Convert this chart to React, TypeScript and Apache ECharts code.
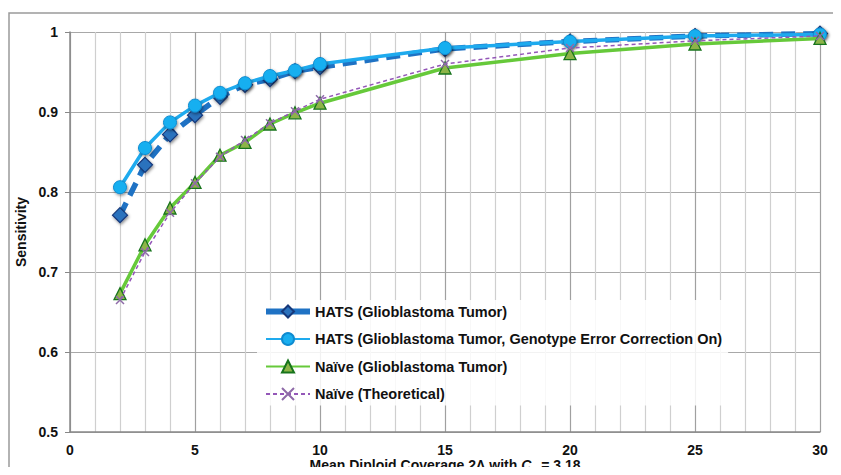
import React, { useEffect, useRef } from "react";
import * as echarts from "echarts";

const coverage = [2, 3, 4, 5, 6, 7, 8, 9, 10, 15, 20, 25, 30];
const hatsTumor = [0.771, 0.834, 0.872, 0.896, 0.919, 0.934, 0.941, 0.951, 0.956, 0.979, 0.988, 0.995, 0.998];
const hatsCorrected = [0.806, 0.855, 0.887, 0.908, 0.924, 0.936, 0.945, 0.952, 0.960, 0.980, 0.988, 0.995, 0.997];
const naiveTumor = [0.673, 0.734, 0.780, 0.812, 0.846, 0.862, 0.885, 0.899, 0.911, 0.955, 0.973, 0.985, 0.992];
const naiveTheory = [0.665, 0.725, 0.774, 0.811, 0.844, 0.865, 0.886, 0.901, 0.916, 0.960, 0.980, 0.989, 0.995];
const seriesNames = [
  "HATS (Glioblastoma Tumor)",
  "HATS (Glioblastoma Tumor, Genotype Error Correction On)",
  "Naïve (Glioblastoma Tumor)",
  "Naïve (Theoretical)",
];

const pair = (ys: number[]) => coverage.map((x, i) => [x, ys[i]]);
const FONT = "Liberation Sans, Arial, sans-serif";
const shadow = { shadowBlur: 3, shadowColor: "rgba(0,0,0,0.45)", shadowOffsetX: 1, shadowOffsetY: 1.5 };

export default function App() {
  const ref = useRef<HTMLDivElement>(null);
  useEffect(() => {
    if (!ref.current) return;
    const chart = echarts.init(ref.current, null, { renderer: "svg" });
    chart.setOption({
      animation: false,
      backgroundColor: "#fff",
      textStyle: { fontFamily: FONT },
      graphic: [
        {
          type: "rect",
          shape: { x: 9, y: 13, width: 900, height: 500 },
          style: { fill: "none", stroke: "#9a9a9a", lineWidth: 1.5 },
          silent: true,
          z: -1,
        },
      ],
      grid: { left: 70, right: 21, top: 32, bottom: 43, outerBoundsMode: "none", containLabel: false },
      xAxis: {
        type: "value",
        min: 0,
        max: 30,
        interval: 5,
        axisLine: { show: true, lineStyle: { color: "#888", width: 1.5 } },
        axisTick: { show: false },
        axisLabel: { color: "#111", fontSize: 14, fontWeight: "bold", margin: 11, fontFamily: FONT },
        splitLine: { show: true, lineStyle: { color: "#a0a0a0", width: 1.2 } },
        minorTick: { show: false, splitNumber: 5 },
        minorSplitLine: { show: true, lineStyle: { color: "#cfcfcf", width: 1.2 } },
        name: "{n|Mean Diploid Coverage 2Λ with }{i|C}{s|a}{n| = 3.18}",
        nameLocation: "middle",
        nameGap: 25,
        nameMoveOverlap: false,
        nameTextStyle: {
          lineHeight: 16,
          rich: {
            n: { fontSize: 14, fontWeight: "bold", color: "#111", fontFamily: FONT, lineHeight: 16 },
            i: { fontSize: 14, fontWeight: "bold", fontStyle: "italic", color: "#111", fontFamily: FONT, lineHeight: 16 },
            s: { fontSize: 9, fontWeight: "bold", fontStyle: "italic", color: "#111", fontFamily: FONT, lineHeight: 16, verticalAlign: "bottom", padding: [0, 1, 0, 0] },
          },
        },
      },
      yAxis: {
        type: "value",
        min: 0.5,
        max: 1,
        interval: 0.1,
        axisLine: { show: true, lineStyle: { color: "#888", width: 1.5 } },
        axisTick: { show: true, length: 5, lineStyle: { color: "#888" } },
        axisLabel: {
          color: "#111",
          fontSize: 14,
          fontWeight: "bold",
          margin: 12,
          fontFamily: FONT,
          formatter: (v: number) => (Math.abs(v - 1) < 1e-9 ? "1" : String(+v.toFixed(1))),
        },
        splitLine: { show: true, lineStyle: { color: "#a8a8a8", width: 1.2 } },
        name: "Sensitivity",
        nameLocation: "middle",
        nameGap: 42,
        nameRotate: 90,
        nameTextStyle: { fontSize: 14, fontWeight: "bold", color: "#111", fontFamily: FONT },
      },
      legend: {
        orient: "vertical",
        left: 257,
        top: 300,
        itemWidth: 44,
        itemHeight: 15,
        itemGap: 12.5,
        padding: [4, 6, 4, 6],
        backgroundColor: "rgba(255,255,255,0.85)",
        textStyle: { fontSize: 14.5, fontWeight: "bold", color: "#111", fontFamily: FONT },
        data: [
          { name: seriesNames[0], lineStyle: { type: "solid", width: 6 } },
          { name: seriesNames[1] },
          { name: seriesNames[2] },
          { name: seriesNames[3] },
        ],
      },
      series: [
        {
          name: seriesNames[0],
          type: "line",
          data: pair(hatsTumor),
          symbol: "diamond",
          symbolSize: 15,
          z: 2,
          lineStyle: { color: "#1f72c4", width: 5.5, type: [14, 8] },
          itemStyle: { color: "#2b72bd", borderColor: "#16387a", borderWidth: 1.2, ...shadow },
        },
        {
          name: seriesNames[1],
          type: "line",
          data: pair(hatsCorrected),
          symbol: "circle",
          symbolSize: 13,
          z: 3,
          lineStyle: { color: "#1eaaee", width: 3.5 },
          itemStyle: { color: "#19aff0", borderColor: "#0e8bd0", borderWidth: 1, ...shadow },
        },
        {
          name: seriesNames[2],
          type: "line",
          data: pair(naiveTumor),
          symbol: "triangle",
          symbolSize: 12,
          z: 4,
          lineStyle: { color: "#66c93a", width: 3.5 },
          itemStyle: { color: "#8db448", borderColor: "#17741c", borderWidth: 1.3 },
        },
        {
          name: seriesNames[3],
          type: "line",
          data: pair(naiveTheory),
          symbol: "path://M0,0L10,10M10,0L0,10",
          symbolSize: 8,
          z: 5,
          lineStyle: { color: "#9457b8", width: 1.5, type: [4, 3] },
          itemStyle: { color: "#8e6aa8", borderColor: "#8e6aa8", borderWidth: 1.5 },
        },
      ],
    });
    return () => chart.dispose();
  }, []);
  return <div ref={ref} style={{ width: 841, height: 475, margin: -8 }} />;
}
